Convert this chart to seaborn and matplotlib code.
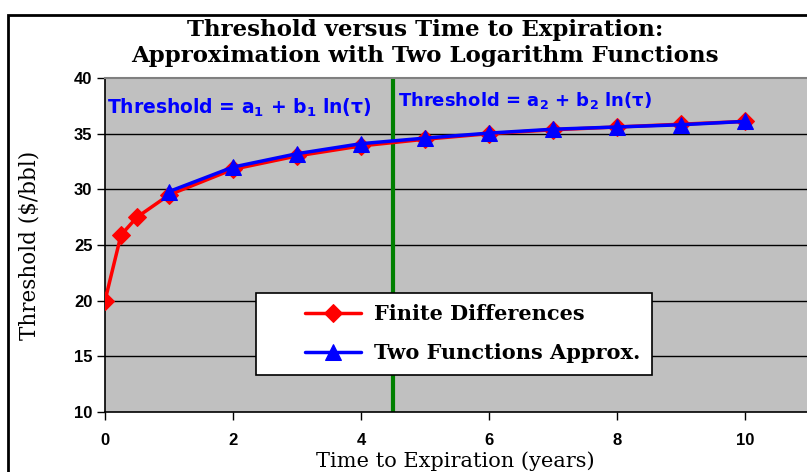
import matplotlib
matplotlib.use("Agg")
import matplotlib.pyplot as plt
import seaborn as sns
import pandas as pd
from matplotlib.patches import Rectangle
from matplotlib.legend_handler import HandlerLine2D

# values
fd_time = [0, 0.25, 0.5, 1, 2, 3, 4, 5, 6, 7, 8, 9, 10]
fd_threshold = [20.0, 25.9, 27.5, 29.5, 31.8, 33.0, 33.9, 34.5, 35.0, 35.35, 35.6, 35.85, 36.1]
approx_time = [1, 2, 3, 4, 5, 6, 7, 8, 9, 10]
approx_threshold = [29.8, 32.0, 33.2, 34.1, 34.6, 35.05, 35.4, 35.6, 35.8, 36.1]

switch_time = 4.5  # green line between the two log functions
x_ticks = [0, 2, 4, 6, 8, 10]
y_ticks = [10, 15, 20, 25, 30, 35, 40]

fd = pd.DataFrame({"time": fd_time, "threshold": fd_threshold})
approx = pd.DataFrame({"time": approx_time, "threshold": approx_threshold})

sns.set_style("white")
plt.rcParams["mathtext.default"] = "bf"
plt.rcParams["text.color"] = "black"

W, H = 807, 472
fig = plt.figure(figsize=(W / 100, H / 100), dpi=100)
ax = fig.add_axes([105 / W, 60 / H, (809 - 105) / W, (412 - 78) / H])
ax.set_facecolor("#C0C0C0")

# horizontal grid lines
for yv in y_ticks[1:-1]:
    ax.axhline(yv, color="black", lw=1, zorder=1)

ax.axvline(switch_time, color="#008000", lw=3, zorder=2)

sns.lineplot(data=fd, x="time", y="threshold", ax=ax, color="red", lw=2.5,
             marker="D", markersize=9, markeredgecolor="red",
             label="Finite Differences", zorder=3)
sns.lineplot(data=approx, x="time", y="threshold", ax=ax, color="blue", lw=2.5,
             marker="^", markersize=12, markeredgecolor="blue",
             label="Two Functions Approx.", zorder=4)

ax.set_xlim(0, 11)
ax.set_ylim(10, 40)
ax.set_xticks(x_ticks)
ax.set_yticks(y_ticks)
ax.set_xlabel("")
ax.set_ylabel("")
ax.tick_params(axis="both", direction="out", length=6, width=1, color="black",
               labelcolor="black", labelsize=12, pad=3, bottom=True, left=True)
ax.tick_params(axis="x", pad=9)
for lab in ax.get_xticklabels() + ax.get_yticklabels():
    lab.set_fontweight("bold")
    lab.set_family("Liberation Sans")

for side in ["left", "bottom"]:
    ax.spines[side].set_color("black")
    ax.spines[side].set_linewidth(1.2)
ax.spines["top"].set_color("#808080")
ax.spines["top"].set_linewidth(1.5)
ax.spines["right"].set_visible(False)

# formula labels
ax.text(0.03, 37.3, r"Threshold = a$_1$ + b$_1$ ln(τ)", color="blue",
        fontsize=13.5, fontweight="bold", va="center", ha="left", zorder=5)
ax.text(4.58, 38.0, r"Threshold = a$_2$ + b$_2$ ln(τ)", color="blue",
        fontsize=13, fontweight="bold", va="center", ha="left", zorder=5)

fs = 15
hmap = {h: HandlerLine2D(xpad=1.8) for h in ax.get_legend_handles_labels()[0]}
leg = ax.legend(loc="upper left", bbox_to_anchor=((256 - 105) / 704, (412 - 293) / 334),
                borderaxespad=0, frameon=True, fancybox=False, framealpha=1,
                edgecolor="black", handlelength=4.5, handletextpad=0.6,
                borderpad=0.55, labelspacing=0.9, handler_map=hmap,
                prop={"family": "DejaVu Serif", "weight": "bold", "size": fs})
leg.get_frame().set_linewidth(1.2)
leg.set_zorder(6)

fig.text(425 / W, 1 - 43 / H,
         "Threshold versus Time to Expiration:\nApproximation with Two Logarithm Functions",
         ha="center", va="center", fontsize=16.5, fontweight="bold",
         family="DejaVu Serif", linespacing=1.25)
fig.text(455 / W, 1 - 461 / H, "Time to Expiration (years)", ha="center", va="center",
         fontsize=15, family="DejaVu Serif")
fig.text(30 / W, 1 - 245 / H, "Threshold ($/bbl)", ha="center", va="center",
         rotation=90, fontsize=15.5, family="DejaVu Serif")

# outer chart border
fig.add_artist(Rectangle((8 / W, -0.1), 1.0, (H - 15) / H + 0.1, transform=fig.transFigure,
                         fill=False, edgecolor="black", lw=2))

fig.savefig("out.png", dpi=100)
